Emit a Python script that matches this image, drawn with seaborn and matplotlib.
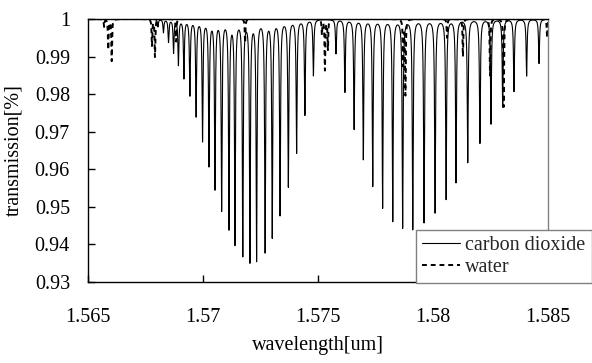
import numpy as np
import pandas as pd
import matplotlib
matplotlib.use('Agg')
import matplotlib.pyplot as plt
import seaborn as sns

# CO2 line centres [um] and minimum transmission at each line
co2_center = [1.56804, 1.56828, 1.56850, 1.56872, 1.56893, 1.56917, 1.56943, 1.56970,
              1.56998, 1.57026, 1.57052, 1.57081, 1.57113, 1.57139, 1.57173, 1.57204,
              1.57233, 1.57270, 1.57301, 1.57335, 1.57371, 1.57407, 1.57443, 1.57480,
              1.57578, 1.57617, 1.57657, 1.57697, 1.57738, 1.57781, 1.57825, 1.57868,
              1.57912, 1.57961, 1.58009, 1.58057, 1.58100, 1.58151, 1.58204, 1.58252,
              1.58303, 1.58352, 1.58407, 1.58461]
co2_min = [0.9980, 0.9965, 0.9940, 0.9912, 0.9880, 0.9845, 0.9800, 0.9745,
           0.9680, 0.9615, 0.9554, 0.9497, 0.9449, 0.9408, 0.9377, 0.9361,
           0.9364, 0.9386, 0.9425, 0.9483, 0.9558, 0.9647, 0.9747, 0.9851,
           0.9909, 0.9807, 0.9709, 0.9629, 0.9558, 0.9500, 0.9465, 0.9447,
           0.9443, 0.9461, 0.9487, 0.9523, 0.9567, 0.9620, 0.9671, 0.9722,
           0.9767, 0.9808, 0.9849, 0.9882]

# water line centres [um] and minimum transmission
h2o_center = [1.56570, 1.56588, 1.56603, 1.56778, 1.56791, 1.56883, 1.57183, 1.57517,
              1.57530, 1.57543, 1.57870, 1.57880, 1.58061, 1.58130, 1.58248, 1.58307,
              1.58496]
h2o_min = [0.9980, 0.9920, 0.9889, 0.9930, 0.9900, 0.9940, 0.9936, 0.9960,
           0.9865, 0.9920, 0.9880, 0.9800, 0.9950, 0.9900, 0.9850, 0.9766,
           0.9950]

xticks = [1.565, 1.57, 1.575, 1.58, 1.585]
xtick_labels = ['1.565', '1.57', '1.575', '1.58', '1.585']
yticks = [0.93, 0.94, 0.95, 0.96, 0.97, 0.98, 0.99, 1.0]
ytick_labels = ['0.93', '0.94', '0.95', '0.96', '0.97', '0.98', '0.99', '1']


def spectrum(wl, centers, tmin, hw):
    t = np.ones_like(wl)
    for c, m in zip(centers, tmin):
        t -= (1 - m) * hw**2 / ((wl - c)**2 + hw**2)
    return t


wl = np.linspace(1.565, 1.585, 40001)
df = pd.DataFrame({
    'wl': np.concatenate([wl, wl]),
    'T': np.concatenate([spectrum(wl, co2_center, co2_min, 2.4e-5),
                         spectrum(wl, h2o_center, h2o_min, 1.8e-5)]),
    'gas': ['carbon dioxide'] * len(wl) + ['water'] * len(wl),
})

sns.set_style('ticks')
plt.rcParams['font.family'] = ['Liberation Serif', 'DejaVu Serif']

fig = plt.figure(figsize=(5.92, 3.63), dpi=100)
ax = fig.add_axes([88 / 592, 1 - 282 / 363, 460 / 592, 263 / 363])

co2 = df[df['gas'] == 'carbon dioxide']
h2o = df[df['gas'] == 'water']
sns.lineplot(data=co2, x='wl', y='T', ax=ax, color='black', lw=0.8,
             estimator=None, sort=False, label='carbon dioxide')
sns.lineplot(data=h2o, x='wl', y='T', ax=ax, color='black', lw=1.4,
             linestyle=(0, (2.5, 2)), estimator=None, sort=False, label='water')

ax.set_xlim(1.565, 1.585)
ax.set_ylim(0.93, 1.0)
ax.set_xticks(xticks)
ax.set_xticklabels(xtick_labels)
ax.set_yticks(yticks)
ax.set_yticklabels(ytick_labels)
ax.tick_params(axis='both', direction='in', length=5, width=1, color='black',
               labelsize=14.5, labelcolor='black')
ax.tick_params(axis='x', pad=19)
ax.tick_params(axis='y', pad=13)

for side in ['left', 'bottom', 'top']:
    ax.spines[side].set_color('black')
    ax.spines[side].set_linewidth(1)
ax.spines['right'].set_color('#808080')
ax.spines['right'].set_linewidth(1)

ax.set_xlabel('wavelength[um]', fontsize=14.5, color='black')
ax.set_ylabel('transmission[%]', fontsize=14.5, color='black')
ax.xaxis.set_label_coords(0.5, -0.205)
ax.yaxis.set_label_coords(-0.14, 0.5)

leg = ax.legend(loc='lower left', bbox_to_anchor=(416 / 592, 1 - 283 / 363),
                bbox_transform=fig.transFigure, fontsize=14.5, frameon=True,
                fancybox=False, framealpha=1, edgecolor='#808080',
                handlelength=1.9, handletextpad=0.25, labelspacing=0.12,
                borderpad=0.3, borderaxespad=0)
leg.get_frame().set_linewidth(1)

fig.savefig('out.png', dpi=100)
